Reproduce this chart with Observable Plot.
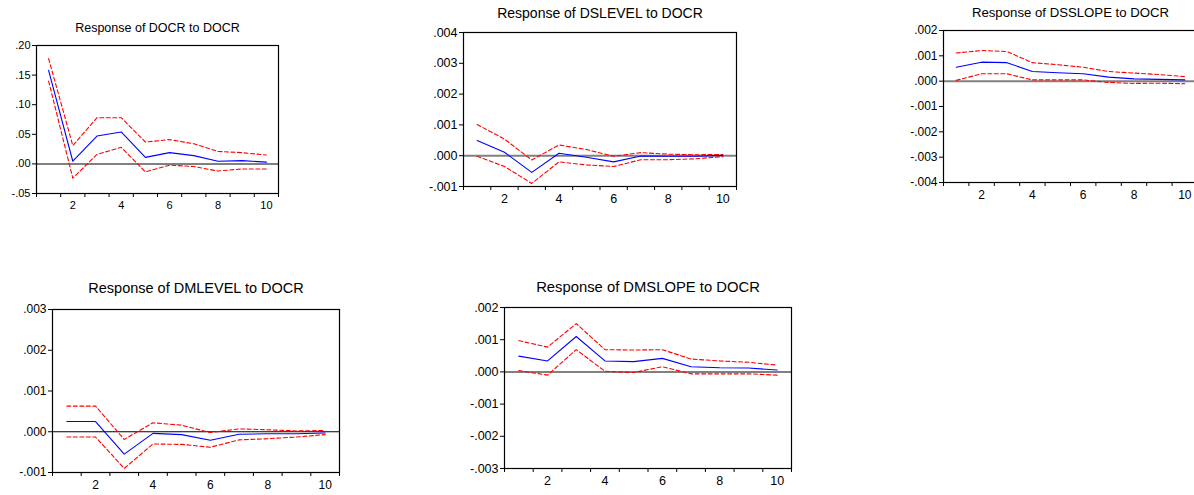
<!DOCTYPE html>
<html><head><meta charset="utf-8">
<script src="https://cdn.jsdelivr.net/npm/d3@7"></script>
<script src="https://cdn.jsdelivr.net/npm/@observablehq/plot@0.6"></script>
<style>
html,body{margin:0;padding:0;background:#fff;overflow:hidden}
#root{position:relative;width:1194px;height:495px;overflow:hidden;background:#fff}
#root svg{position:absolute;overflow:visible}
</style>
</head><body><div id="root"></div>
<script>
// ---- data ----
const periods = [1, 2, 3, 4, 5, 6, 7, 8, 9, 10];
const xLabelTicks = [2, 4, 6, 8, 10];

const docrTitle = "Response of DOCR to DOCR";
const docrResp  = [0.158, 0.0045, 0.047, 0.054, 0.011, 0.019, 0.014, 0.0045, 0.0056, 0.003];
const docrUpper = [0.178, 0.031, 0.078, 0.078, 0.037, 0.041, 0.034, 0.021, 0.019, 0.015];
const docrLower = [0.140, -0.024, 0.016, 0.028, -0.0135, -0.002, -0.0045, -0.012, -0.0085, -0.0085];
const docrYTicks = [-0.05, 0, 0.05, 0.10, 0.15, 0.20];

const dslevelTitle = "Response of DSLEVEL to DOCR";
const dslevelResp  = [0.00049, 0.00011, -0.00054, 0.00008, -0.00005, -0.0002, -0.00001, -0.00002, -0.00002, 0.00001];
const dslevelUpper = [0.00101, 0.00054, -0.00014, 0.00035, 0.0002, -0.00002, 0.0001, 0.00005, 0.00003, 0.00004];
const dslevelLower = [-0.00002, -0.00035, -0.0009, -0.0002, -0.0003, -0.00035, -0.00013, -0.00013, -0.0001, -0.00003];
const dslevelYTicks = [-0.001, 0, 0.001, 0.002, 0.003, 0.004];

const dsslopeTitle = "Response of DSSLOPE to DOCR";
const dsslopeResp  = [0.00055, 0.00075, 0.00073, 0.00038, 0.00033, 0.00029, 0.00016, 0.00009, 0.00007, 0.00005];
const dsslopeUpper = [0.00111, 0.00121, 0.00117, 0.00073, 0.00065, 0.00055, 0.00038, 0.00032, 0.00026, 0.00018];
const dsslopeLower = [0.00003, 0.00029, 0.00029, 0.00005, 0.00005, 0.00005, -0.00005, -0.00009, -0.00008, -0.0001];
const dsslopeYTicks = [-0.004, -0.003, -0.002, -0.001, 0, 0.001, 0.002];

const dmlevelTitle = "Response of DMLEVEL to DOCR";
const dmlevelResp  = [0.00025, 0.00025, -0.00055, -0.00004, -0.00007, -0.00021, -0.00006, -0.00005, -0.00005, -0.00003];
const dmlevelUpper = [0.00063, 0.00063, -0.00019, 0.00022, 0.00016, -0.00002, 0.00007, 0.00005, 0.00002, 0.00003];
const dmlevelLower = [-0.00013, -0.00013, -0.0009, -0.0003, -0.00031, -0.00038, -0.0002, -0.00017, -0.00013, -0.00007];
const dmlevelYTicks = [-0.001, 0, 0.001, 0.002, 0.003];

const dmslopeTitle = "Response of DMSLOPE to DOCR";
const dmslopeResp  = [0.00049, 0.00034, 0.0011, 0.00034, 0.00032, 0.00042, 0.00016, 0.00013, 0.00012, 0.00006];
const dmslopeUpper = [0.00097, 0.00077, 0.0015, 0.00069, 0.00068, 0.00069, 0.0004, 0.00034, 0.0003, 0.00021];
const dmslopeLower = [0.00004, -0.0001, 0.00069, 0.00002, -0.00002, 0.00016, -0.00006, -0.00006, -0.00006, -0.0001];
const dmslopeYTicks = [-0.003, -0.002, -0.001, 0, 0.001, 0.002];

// ---- layout / style (separate from data) ----
const panels = [
  {title: docrTitle, resp: docrResp, upper: docrUpper, lower: docrLower, yTicks: docrYTicks, digits: 2,
   L: 36, R: 278, T: 45, B: 193, titleY: 27, titleSize: 12.5, tickFont: 11, zero: "#808080", zeroW: 2},
  {title: dslevelTitle, resp: dslevelResp, upper: dslevelUpper, lower: dslevelLower, yTicks: dslevelYTicks, digits: 3,
   L: 463, R: 736, T: 32, B: 186, titleY: 13, titleSize: 14, tickFont: 12.5, zero: "#808080", zeroW: 2},
  {title: dsslopeTitle, resp: dsslopeResp, upper: dsslopeUpper, lower: dsslopeLower, yTicks: dsslopeYTicks, digits: 3,
   L: 943, R: 1197, T: 30, B: 182, titleY: 12, titleSize: 13.2, tickFont: 12, zero: "#808080", zeroW: 2},
  {title: dmlevelTitle, resp: dmlevelResp, upper: dmlevelUpper, lower: dmlevelLower, yTicks: dmlevelYTicks, digits: 3,
   L: 52, R: 339, T: 309, B: 472, titleY: 288, titleSize: 14.5, tickFont: 12, zero: "#000000", zeroW: 1},
  {title: dmslopeTitle, resp: dmslopeResp, upper: dmslopeUpper, lower: dmslopeLower, yTicks: dmslopeYTicks, digits: 3,
   L: 504, R: 791, T: 307, B: 468, titleY: 287, titleSize: 14.8, tickFont: 12.5, zero: "#808080", zeroW: 2}
];

const root = document.getElementById("root");
const ml = 50, mr = 6, mt = 40, mb = 28;

for (const p of panels) {
  const rows = periods.map((k, i) => ({k, resp: p.resp[i], upper: p.upper[i], lower: p.lower[i]}));
  const fmt0 = d3.format(`.${p.digits}f`);
  const fmt = d => {
    const s = fmt0(Math.abs(d)).replace(/^0\./, ".");
    return (d < -1e-12 ? "-" : "") + s;
  };
  const yDom = [d3.min(p.yTicks), d3.max(p.yTicks)];
  const chart = Plot.plot({
    width: (p.R - p.L) + ml + mr,
    height: (p.B - p.T) + mt + mb,
    marginLeft: ml, marginRight: mr, marginTop: mt, marginBottom: mb,
    style: {fontFamily: "'Liberation Sans', Arial, sans-serif", fontSize: p.tickFont + "px", color: "#000", background: "transparent"},
    x: {domain: [0.5, 10.5]},
    y: {domain: yDom},
    marks: [
      Plot.ruleY([0], {stroke: p.zero, strokeWidth: p.zeroW}),
      Plot.line(rows, {x: "k", y: "upper", stroke: "#ff0000", strokeWidth: 1.1, strokeDasharray: "4,2.5"}),
      Plot.line(rows, {x: "k", y: "lower", stroke: "#ff0000", strokeWidth: 1.1, strokeDasharray: "4,2.5"}),
      Plot.line(rows, {x: "k", y: "resp", stroke: "#0000ff", strokeWidth: 1.1}),
      Plot.axisY({ticks: p.yTicks, tickFormat: fmt, tickSize: 4, tickPadding: 2, label: null}),
      Plot.axisX({ticks: d3.range(0.5, 11, 1), tickFormat: () => "", tickSize: 4, label: null}),
      Plot.axisX({ticks: xLabelTicks, tickSize: 0, tickPadding: 8, label: null}),
      Plot.frame({stroke: "#000", strokeWidth: 1.2}),
      Plot.text([p.title], {text: d => d, frameAnchor: "top", dy: p.titleY - p.T, lineAnchor: "middle", fontSize: p.titleSize, fill: "#000"})
    ]
  });
  chart.style.left = (p.L - ml) + "px";
  chart.style.top = (p.T - mt) + "px";
  root.appendChild(chart);
}
</script>
</body></html>
